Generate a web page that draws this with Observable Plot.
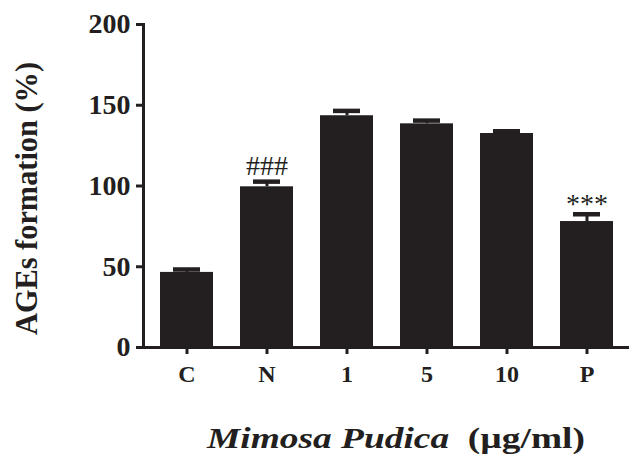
<!DOCTYPE html>
<html>
<head>
<meta charset="utf-8">
<script src="https://cdn.jsdelivr.net/npm/d3@7"></script>
<script src="https://cdn.jsdelivr.net/npm/@observablehq/plot@0.6"></script>
<style>
  html, body { margin: 0; padding: 0; background: #fff; }
  svg { display: block; }
</style>
</head>
<body>
<div id="chart"></div>
<script>
const categories = ["C", "N", "1", "5", "10", "P"];
const values = [46.5, 99.5, 143.5, 138.5, 132.5, 78];
const errors = [1.8, 3.2, 3.0, 2.0, 1.4, 4.5];
const marks = ["", "###", "", "", "", "***"];
const yTicks = [0, 50, 100, 150, 200];
const yTitle = "AGEs formation (%)";
const xTitleItalic = "Mimosa Pudica";
const xTitleRest = "  (µg/ml)";

const data = categories.map((c, i) => ({cat: c, value: values[i], err: errors[i], mark: marks[i]}));
const ink = "#231f20";
const font = "Liberation Serif";

const chart = Plot.plot({
  width: 629,
  height: 462,
  marginLeft: 143,
  marginRight: 0,
  marginTop: 24,
  marginBottom: 115,
  style: {fontFamily: font, background: "#fff", color: ink},
  x: {domain: categories, paddingInner: 0.34, paddingOuter: 0.195, label: null},
  y: {domain: [0, 200], label: null},
  marks: [
    Plot.barY(data, {x: "cat", y: "value", fill: ink}),
    Plot.ruleX(data, {x: "cat", y1: "value", y2: d => d.value + d.err, stroke: ink, strokeWidth: 3}),
    Plot.tickY(data, {x: "cat", y: d => d.value + d.err, stroke: ink, strokeWidth: 4.5, insetLeft: 13, insetRight: 13}),
    Plot.text(data.filter(d => d.mark === "###"), {x: "cat", y: d => d.value + d.err, text: "mark", dy: -16, fontSize: 28, fill: ink}),
    Plot.text(data.filter(d => d.mark === "***"), {x: "cat", y: d => d.value + d.err, text: "mark", dy: -10, fontSize: 28, fill: ink}),
    Plot.axisY({ticks: yTicks, tickFormat: d => d, tickSize: 7, tickPadding: 6, strokeWidth: 3, label: null, stroke: ink, fill: ink}),
    Plot.axisX({tickSize: 7, tickPadding: 10, strokeWidth: 3, label: null, stroke: ink, fill: ink}),
    Plot.ruleY([0], {stroke: ink, strokeWidth: 3}),
    Plot.frame({anchor: "left", stroke: ink, strokeWidth: 3})
  ]
});

const svg = d3.select(chart);
svg.selectAll('g[aria-label="y-axis tick label"]').style("font-size", "28px").style("font-weight", "bold").style("font-family", font);
svg.selectAll('g[aria-label="x-axis tick label"]').style("font-size", "24px").style("font-weight", "bold").style("font-family", font);
svg.selectAll('g[aria-label="text"]').style("font-family", font);

svg.append("text")
  .attr("transform", "translate(37,198.5) rotate(-90)")
  .attr("text-anchor", "middle")
  .style("font-family", font)
  .style("font-size", "31px")
  .style("font-weight", "bold")
  .attr("fill", ink)
  .attr("textLength", 273)
  .attr("lengthAdjust", "spacingAndGlyphs")
  .text(yTitle);
const xt = svg.append("text")
  .attr("x", 396)
  .attr("y", 448)
  .attr("text-anchor", "middle")
  .style("font-family", font)
  .style("font-size", "30px")
  .style("font-weight", "bold")
  .attr("fill", ink)
  .attr("textLength", 378)
  .attr("lengthAdjust", "spacingAndGlyphs")
  .style("white-space", "pre");
xt.append("tspan").style("font-style", "italic").text(xTitleItalic);
xt.append("tspan").style("white-space", "pre").text(xTitleRest);

document.getElementById("chart").appendChild(chart);
</script>
</body>
</html>
